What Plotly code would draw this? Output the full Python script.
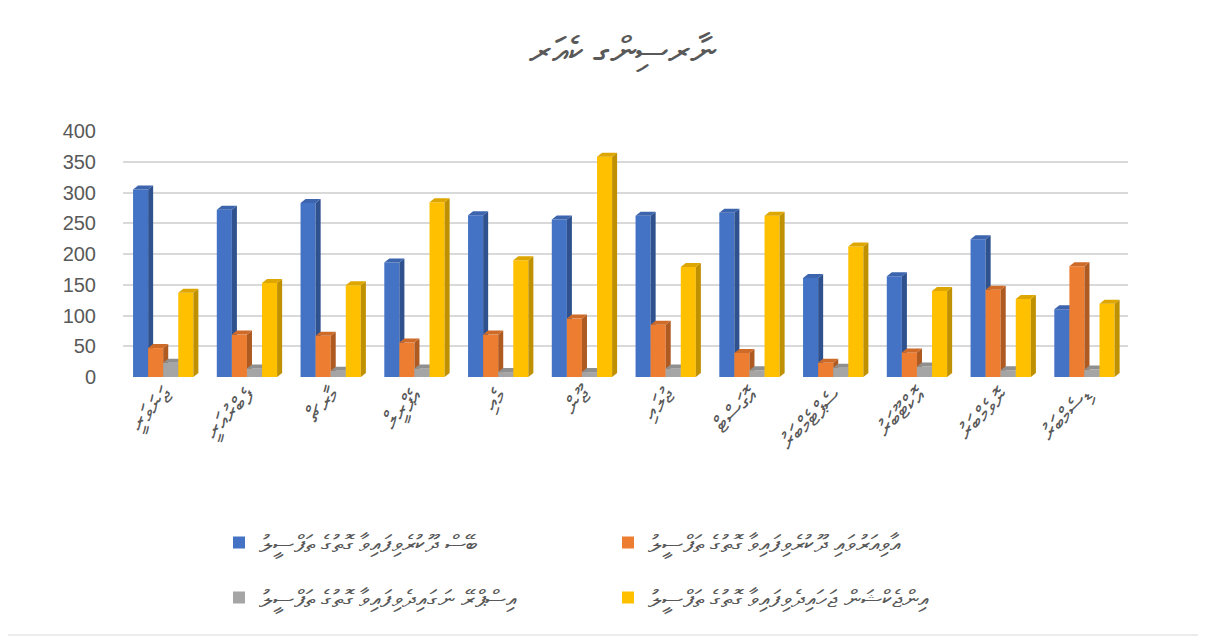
import plotly.graph_objects as go

# ---- data ----
months = ["ޖަނަވަރީ", "ފެބްރުއަރީ", "މާރޗް", "އެޕްރީލް", "މެއި", "ޖޫން",
          "ޖުލައި", "އޮގަސްޓް", "ސެޕްޓެމްބަރު", "އޮކްޓޫބަރު", "ނޮވެމްބަރު", "ޑިސެމްބަރު"]
series_names = [
    "ބޭސް ދޫކުރެވިފައިވާ ގޮތުގެ ތަފްސީލު",
    "އާވިއަރުވައި ދޫކުރެވިފައިވާ ގޮތުގެ ތަފްސީލު",
    "އިސްޕްރޭ ނަގައިދެވިފައިވާ ގޮތުގެ ތަފްސީލު",
    "އިންޖެކްޝަން ޖަހައިދެވިފައިވާ ގޮތުގެ ތަފްސީލު",
]
blue_vals = [305, 272, 283, 186, 263, 256, 262, 267, 161, 164, 224, 110]
orange_vals = [47, 69, 67, 56, 69, 95, 85, 39, 23, 40, 142, 180]
gray_vals = [23, 14, 10, 14, 8, 8, 14, 11, 15, 17, 11, 12]
yellow_vals = [137, 153, 149, 284, 190, 358, 179, 262, 212, 140, 127, 119]
y_ticks = [0, 50, 100, 150, 200, 250, 300, 350, 400]
title_text = "ނާރސިންގ ކެއަރ"

# ---- style ----
front_colors = ["#4472C4", "#ED7D31", "#A5A5A5", "#FFC000"]
side_colors = ["#2F528F", "#AE5A21", "#7B7B7B", "#BF9000"]
top_colors = ["#3C65AE", "#CF6B28", "#8F8F8F", "#DDA600"]
offsets = [-0.38, -0.20, -0.02, 0.16]
bar_w = 0.18
dx = 0.06   # depth in x units
dy = 6.5    # depth in y units
all_vals = [blue_vals, orange_vals, gray_vals, yellow_vals]
txt_color = "#595959"
font_fam = "Noto Sans, DejaVu Sans, sans-serif"

W, H = 1198, 630          # page body has an 8px margin
L_M, R_M, T_M, B_M = 115, 78, 123, 261
PW, PH = W - L_M - R_M, H - T_M - B_M

fig = go.Figure()
xr = [-0.5, 11.5]
yr = [0, 400]

for i, vals in enumerate(all_vals):
    sfx = "" if i == 0 else str(i + 1)
    xa, ya = "x" + sfx, "y" + sfx
    xs = list(range(len(months)))
    fig.add_trace(go.Bar(
        x=xs, y=vals, width=bar_w, offset=offsets[i],
        marker=dict(color=front_colors[i], line=dict(width=0)),
        name=series_names[i], xaxis=xa, yaxis=ya,
        legend="legend" if i < 2 else "legend2",
        hoverinfo="y",
    ))
    sx, sy, tx, ty = [], [], [], []
    for c, v in zip(xs, vals):
        Lx = c + offsets[i]
        Rx = Lx + bar_w
        sx += [Rx, Rx, Rx + dx, Rx + dx, Rx, None]
        sy += [0, v, v + dy, dy, 0, None]
        tx += [Lx, Rx, Rx + dx, Lx + dx, Lx, None]
        ty += [v, v, v + dy, v + dy, v, None]
    fig.add_trace(go.Scatter(x=sx, y=sy, mode="lines", fill="toself",
                             fillcolor=side_colors[i], line=dict(width=0, color=side_colors[i]),
                             showlegend=False, hoverinfo="skip", xaxis=xa, yaxis=ya))
    fig.add_trace(go.Scatter(x=tx, y=ty, mode="lines", fill="toself",
                             fillcolor=top_colors[i], line=dict(width=0, color=top_colors[i]),
                             showlegend=False, hoverinfo="skip", xaxis=xa, yaxis=ya))

leg_font = dict(size=24, color=txt_color, family=font_fam)
layout = dict(
    width=W, height=H,
    margin=dict(l=L_M, r=R_M, t=T_M, b=B_M),
    paper_bgcolor="white", plot_bgcolor="rgba(0,0,0,0)",
    barmode="overlay",
    font=dict(family=font_fam, color=txt_color),
    title=dict(text=title_text, x=614 / W, xref="container", xanchor="center",
               y=1 - 43 / H, yref="container", yanchor="middle",
               font=dict(size=38, color=txt_color, family=font_fam)),
    xaxis=dict(range=xr, tickmode="array", tickvals=list(range(12)), ticktext=months,
               tickangle=-45, tickfont=dict(size=23, color=txt_color),
               showgrid=False, zeroline=False, showline=False, ticks=""),
    yaxis=dict(range=yr, tickmode="array", tickvals=y_ticks,
               tickfont=dict(size=20, color=txt_color, family="Liberation Sans, Arial, sans-serif"),
               showgrid=True, gridcolor="#D9D9D9", gridwidth=2, zeroline=False,
               showline=False, ticks="", ticklabelstandoff=26),
    legend=dict(orientation="h", x=(211 - L_M) / PW, y=(369 - 535) / PH,
                xanchor="left", yanchor="middle",
                entrywidth=344, entrywidthmode="pixels",
                font=leg_font, bgcolor="rgba(0,0,0,0)"),
    legend2=dict(orientation="h", x=(211 - L_M) / PW, y=(369 - 590) / PH,
                 xanchor="left", yanchor="middle",
                 entrywidth=344, entrywidthmode="pixels",
                 font=leg_font, bgcolor="rgba(0,0,0,0)"),
    shapes=[dict(type="rect", xref="paper", yref="paper",
                 x0=-(L_M + 20) / PW, x1=1 + (R_M - 3) / PW,
                 y0=-(B_M - 3) / PH, y1=1 + (T_M + 20) / PH,
                 line=dict(color="#D9D9D9", width=1), fillcolor="rgba(0,0,0,0)", layer="below")],
)
for i in range(2, 5):
    layout["xaxis%d" % i] = dict(range=xr, overlaying="x", visible=False, anchor="y%d" % i)
    layout["yaxis%d" % i] = dict(range=yr, overlaying="y", visible=False, anchor="x%d" % i)

fig.update_layout(**layout)
fig.write_html("out.html")
